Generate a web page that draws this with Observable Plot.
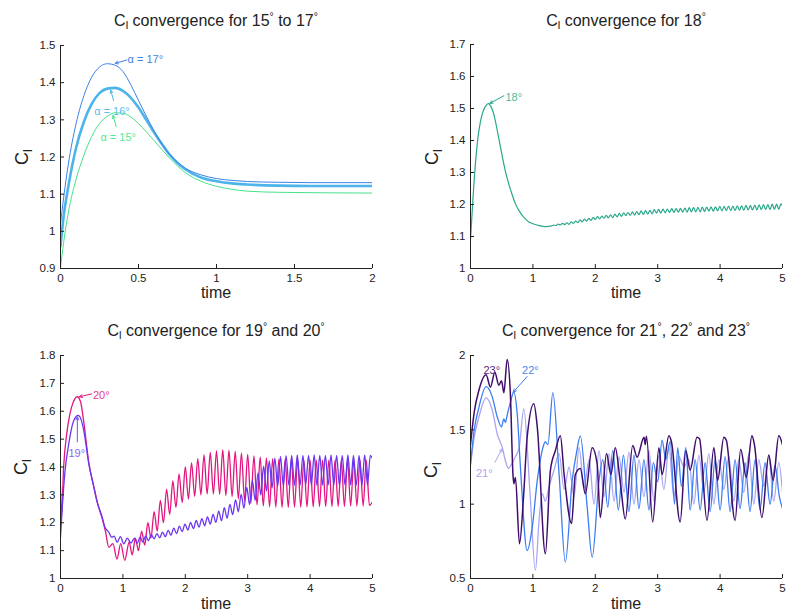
<!DOCTYPE html>
<html><head><meta charset="utf-8">
<script src="https://cdn.jsdelivr.net/npm/d3@7"></script>
<script src="https://cdn.jsdelivr.net/npm/@observablehq/plot@0.6"></script>
<style>
body{margin:0;background:#fff;}
#wrap{position:relative;width:787px;height:615px;background:#fff;font-family:"Liberation Sans",Arial,Helvetica,sans-serif;color:#222;overflow:hidden;}
.panel{position:absolute;}
.title{position:absolute;font-size:16px;line-height:16px;transform:translateX(-50%);white-space:nowrap;}
.xlab{position:absolute;font-size:16px;line-height:12px;transform:translateX(-50%);white-space:nowrap;}
.ylab{position:absolute;font-size:18px;line-height:18px;transform:translate(-50%,-50%) rotate(-90deg);white-space:nowrap;}
sub{font-size:0.7em;position:relative;top:0.3em;vertical-align:baseline;line-height:0;}
sup{font-size:0.65em;position:relative;top:-0.55em;vertical-align:baseline;line-height:0;}
</style></head><body><div id="wrap"></div>
<script>
// ---------- Panel 1: 15° to 17° ----------
const t1 = [0,0.02,0.05,0.1,0.15,0.2,0.25,0.3,0.35,0.4,0.45,0.5,0.55,0.6,0.65,0.7,0.75,0.8,0.9,1.0,1.1,1.2,1.4,1.6,2.0];
const cl17 = [1.02,1.09,1.18,1.29,1.365,1.415,1.442,1.451,1.447,1.43,1.395,1.352,1.31,1.27,1.235,1.207,1.186,1.17,1.152,1.142,1.137,1.134,1.132,1.131,1.131];
const cl16 = [0.96,1.04,1.12,1.225,1.295,1.343,1.372,1.384,1.386,1.378,1.36,1.333,1.3,1.266,1.235,1.206,1.184,1.167,1.145,1.135,1.129,1.126,1.123,1.122,1.122];
const cl15 = [0.90,0.97,1.05,1.14,1.205,1.255,1.29,1.31,1.319,1.318,1.308,1.29,1.268,1.244,1.22,1.197,1.176,1.158,1.135,1.121,1.113,1.108,1.105,1.104,1.103];

// ---------- Panel 2: 18° ----------
const t18 = [0,0.04,0.08,0.12,0.16,0.2,0.25,0.29,0.33,0.37,0.41,0.45,0.5,0.53,0.57,0.61,0.66,0.72,0.78,0.83,0.88,0.93,1.0,1.1,1.2,1.26,
1.3,1.335,1.37,1.405,1.44,1.475,1.51,1.545,1.58,1.615,1.65,1.685,1.72,1.755,1.79,1.825,1.86,1.895,1.93,1.965,
2.0,2.035,2.07,2.105,2.14,2.175,2.21,2.245,2.28,2.315,2.35,2.385,2.42,2.455,2.49,2.525,2.56,2.595,2.63,2.665,
2.7,2.735,2.77,2.805,2.84,2.875,2.91,2.945,2.98,3.015,3.05,3.085,3.12,3.155,3.19,3.225,3.26,3.295,3.33,3.365,
3.4,3.435,3.47,3.505,3.54,3.575,3.61,3.645,3.68,3.715,3.75,3.785,3.82,3.855,3.89,3.925,3.96,3.995,4.03,4.065,
4.1,4.135,4.17,4.205,4.24,4.275,4.31,4.345,4.38,4.415,4.45,4.485,4.52,4.555,4.59,4.625,4.66,4.695,4.73,4.765,
4.8,4.835,4.87,4.905,4.94,4.975,5.0];
const cl18 = [1.09,1.22,1.33,1.41,1.46,1.49,1.51,1.515,1.505,1.485,1.45,1.41,1.36,1.33,1.295,1.267,1.235,1.202,1.18,1.166,1.155,1.146,1.14,1.134,1.131,1.132,
1.133,1.136,1.134,1.139,1.136,1.141,1.137,1.143,1.138,1.146,1.141,1.148,1.143,1.152,1.146,1.154,1.148,1.157,1.150,1.160,
1.153,1.162,1.155,1.164,1.157,1.166,1.158,1.168,1.159,1.170,1.161,1.172,1.163,1.174,1.165,1.175,1.166,1.177,1.167,1.178,
1.168,1.180,1.169,1.181,1.170,1.182,1.171,1.184,1.173,1.185,1.173,1.186,1.174,1.186,1.175,1.187,1.175,1.187,1.176,1.188,
1.176,1.189,1.176,1.190,1.177,1.190,1.177,1.191,1.177,1.192,1.178,1.192,1.179,1.193,1.179,1.193,1.180,1.194,1.180,1.194,
1.181,1.195,1.181,1.195,1.181,1.196,1.182,1.196,1.182,1.197,1.183,1.197,1.183,1.198,1.183,1.199,1.184,1.200,1.184,1.200,
1.184,1.201,1.185,1.201,1.185,1.202,1.196];

// ---------- Panel 3: 19° and 20° ----------
const t20 = [0,0.015,0.05,0.1,0.15,0.2,0.267,0.32,0.374,0.454,0.534,0.588,0.668,0.72,0.774,0.84,0.905,0.965,1.03,
1.10,1.15,1.20,1.25,1.30,1.35,1.40,1.45,1.50,1.55,1.60,1.65,1.70,1.75,1.80,1.85,1.90,1.95,
2.00,2.05,2.10,2.15,2.20,2.25,2.30,2.35,2.40,2.45,2.50,2.55,2.60,2.65,2.70,2.75,2.80,2.85,2.90,2.95,
3.00,3.05,3.10,3.15,3.20,3.25,3.30,3.35,3.40,3.45,3.50,3.55,3.60,3.65,3.70,3.75,3.80,3.85,3.90,3.95,
4.00,4.05,4.10,4.15,4.20,4.25,4.30,4.35,4.40,4.45,4.50,4.55,4.60,4.65,4.70,4.75,4.80,4.85,4.90,4.95,5.0];
const cl20 = [1.33,1.22,1.40,1.52,1.59,1.63,1.652,1.635,1.56,1.415,1.33,1.275,1.215,1.17,1.112,1.125,1.07,1.125,1.065,
1.13,1.085,1.145,1.10,1.17,1.12,1.20,1.145,1.24,1.17,1.28,1.20,1.32,1.23,1.35,1.255,1.375,1.272,
1.40,1.285,1.415,1.295,1.43,1.30,1.443,1.303,1.452,1.303,1.458,1.302,1.461,1.298,1.46,1.294,1.456,1.286,1.45,1.278,
1.445,1.27,1.44,1.264,1.436,1.26,1.433,1.257,1.43,1.256,1.428,1.255,1.427,1.255,1.426,1.256,1.426,1.256,1.425,1.257,
1.425,1.257,1.425,1.258,1.425,1.258,1.425,1.258,1.425,1.259,1.425,1.259,1.425,1.26,1.425,1.26,1.425,1.26,1.425,1.262,1.275];

const t19 = [0,0.03,0.07,0.13,0.21,0.283,0.33,0.374,0.454,0.534,0.588,0.668,0.71,0.774,0.82,0.86,0.908,0.96,1.015,1.07,1.13,
1.185,1.23,1.275,1.32,1.365,1.41,1.455,1.5,1.545,1.59,1.635,1.68,1.725,1.77,1.815,1.86,1.905,1.95,1.995,
2.04,2.085,2.13,2.175,2.22,2.265,2.31,2.355,2.4,2.445,2.49,2.535,2.58,2.625,2.67,2.715,2.76,2.805,2.85,2.895,2.94,2.985,
3.03,3.075,3.12,3.165,3.21,3.255,3.3,3.345,3.39,3.435,3.48,3.525,3.57,3.615,3.66,3.705,3.75,3.795,3.84,3.885,3.93,3.975,
4.02,4.065,4.11,4.155,4.2,4.245,4.29,4.335,4.38,4.425,4.47,4.515,4.56,4.605,4.65,4.695,4.74,4.785,4.83,4.875,4.92,4.965,5.0];
const cl19 = [1.148,1.26,1.38,1.48,1.565,1.585,1.57,1.53,1.411,1.328,1.274,1.22,1.185,1.166,1.148,1.152,1.13,1.15,1.124,1.145,1.127,
1.145,1.126,1.149,1.131,1.153,1.136,1.157,1.142,1.161,1.146,1.166,1.15,1.173,1.155,1.181,1.161,1.188,1.168,1.195,
1.174,1.201,1.179,1.208,1.184,1.215,1.189,1.221,1.195,1.23,1.201,1.242,1.207,1.254,1.216,1.266,1.229,1.282,1.24,1.302,1.252,1.327,
1.265,1.352,1.28,1.379,1.3,1.403,1.314,1.422,1.324,1.432,1.33,1.438,1.333,1.441,1.335,1.442,1.334,1.443,1.335,1.442,1.336,1.442,
1.335,1.443,1.334,1.442,1.335,1.442,1.336,1.443,1.335,1.442,1.334,1.442,1.335,1.443,1.336,1.442,1.335,1.442,1.334,1.443,1.335,1.442,1.43];

// ---------- Panel 4: 21°, 22° and 23° ----------
const t23 = [0,0.06,0.134,0.25,0.32,0.39,0.454,0.497,0.535,0.588,0.64,0.68,0.694,0.72,0.785,0.85,0.908,1.015,1.07,1.2,
1.28,1.36,1.44,1.5,1.62,1.68,1.76,1.84,1.95,2.03,2.08,2.18,2.25,2.32,2.4,2.48,2.6,2.67,2.78,2.8,
2.82,2.92,3.02,3.07,3.18,3.22,3.36,3.45,3.52,3.63,3.67,3.79,3.9,3.96,4.06,4.1,4.24,4.33,4.42,4.51,
4.55,4.67,4.78,4.85,4.94,5.0];
const cl23 = [1.40,1.62,1.765,1.87,1.787,1.888,1.80,1.83,1.75,1.973,1.73,1.204,1.137,1.18,0.733,1.05,1.45,1.675,1.52,0.666,
1.226,1.36,1.46,1.2,0.87,1.2,1.24,1.07,1.38,1.27,0.91,1.34,1.2,1.38,1.15,0.90,1.395,1.316,1.45,1.40,
1.457,0.88,1.38,1.20,1.46,1.42,0.88,1.36,1.23,1.45,1.44,0.89,1.38,1.16,1.45,1.43,0.89,1.37,1.18,1.46,
1.40,0.91,1.33,1.16,1.46,1.40];

const t22 = [0,0.06,0.134,0.25,0.35,0.43,0.497,0.534,0.56,0.588,0.64,0.694,0.75,0.8,0.908,0.99,1.07,1.12,1.16,1.2,
1.24,1.32,1.42,1.52,1.63,1.7,1.76,1.87,1.95,
2.06,2.12,2.2,2.28,2.37,2.45,2.54,2.62,2.7,2.78,2.86,2.93,3.0,3.07,3.13,3.2,3.27,3.32,3.38,3.45,
3.52,3.6,3.68,3.76,3.84,3.92,4.0,4.08,4.16,4.24,4.32,4.4,4.48,4.56,4.64,4.72,4.8,4.88,4.95,5.0];
const cl22 = [1.27,1.5,1.65,1.79,1.72,1.585,1.52,1.574,1.55,1.60,1.686,1.753,1.60,1.25,0.688,0.845,1.16,1.30,1.38,1.42,
1.40,1.75,1.2,0.61,1.16,1.35,1.46,0.98,0.643,
1.16,1.30,0.98,1.36,0.96,1.33,0.95,1.33,0.97,1.30,0.96,1.28,1.15,1.43,1.30,1.42,1.00,1.38,1.12,1.38,
0.96,1.30,0.96,1.28,0.95,1.30,0.96,1.32,0.95,1.30,0.97,1.28,0.95,1.30,0.96,1.28,1.0,1.26,1.05,0.97];

const t21 = [0,0.06,0.134,0.25,0.35,0.43,0.51,0.56,0.61,0.66,0.72,0.78,0.855,0.95,1.04,1.1,1.15,1.2,1.26,1.34,
1.42,1.5,1.58,1.66,1.74,1.82,1.9,1.98,2.06,2.14,2.22,2.3,2.38,2.46,2.54,2.62,2.7,2.78,2.86,2.94,
3.02,3.1,3.18,3.26,3.34,3.42,3.5,3.58,3.66,3.74,3.82,3.9,3.98,4.06,4.14,4.22,4.3,4.38,4.46,4.54,
4.62,4.7,4.78,4.86,4.94,5.0];
const cl21 = [1.26,1.45,1.585,1.715,1.63,1.47,1.38,1.29,1.24,1.27,1.32,1.38,1.64,1.1,0.554,0.9,1.07,1.02,1.12,1.23,
1.34,1.10,1.25,1.05,1.38,1.11,1.30,1.0,1.36,1.05,1.34,1.02,1.32,1.08,1.35,1.0,1.30,1.05,1.36,1.02,
1.33,1.10,1.38,1.05,1.32,1.25,1.30,1.0,1.33,1.08,1.34,1.0,1.30,1.1,1.32,1.02,1.3,1.08,1.34,1.0,
1.3,1.12,1.32,1.02,1.28,1.08];

// ---------- Ticks, titles, labels ----------
const xTicks1 = [0,0.5,1,1.5,2];
const yTicks1 = [0.9,1,1.1,1.2,1.3,1.4,1.5];
const xTicks5 = [0,1,2,3,4,5];
const yTicks2 = [1,1.1,1.2,1.3,1.4,1.5,1.6,1.7];
const yTicks3 = [1,1.1,1.2,1.3,1.4,1.5,1.6,1.7,1.8];
const yTicks4 = [0.5,1,1.5,2];
const titles = [
  "C<sub>l</sub> convergence for 15<sup>°</sup> to 17<sup>°</sup>",
  "C<sub>l</sub> convergence for 18<sup>°</sup>",
  "C<sub>l</sub> convergence for 19<sup>°</sup> and 20<sup>°</sup>",
  "C<sub>l</sub> convergence for 21<sup>°</sup>, 22<sup>°</sup> and 23<sup>°</sup>"
];
const xLabel = "time";
const yLabel = "C<sub>l</sub>";

// annotation labels (data coordinates) and arrows
const labels1 = [{t:0.43,v:1.463,text:"α = 17°",anchor:"start",color:"#3f85e8"},
                 {t:0.33,v:1.323,text:"α = 16°",anchor:"middle",color:"#62bdee"},
                 {t:0.37,v:1.253,text:"α = 15°",anchor:"middle",color:"#55e895"}];
const arrows1 = [{x1:0.425,y1:1.461,x2:0.35,y2:1.452,color:"#3f85e8"},
                 {x1:0.34,y1:1.352,x2:0.322,y2:1.38,color:"#4cb4ea"},
                 {x1:0.357,y1:1.282,x2:0.337,y2:1.312,color:"#46e28c"}];
const labels2 = [{t:0.56,v:1.535,text:"18°",anchor:"start",color:"#4cbba0"}];
const arrows2 = [{x1:0.535,y1:1.54,x2:0.31,y2:1.516,color:"#27a88a"}];
const labels3 = [{t:0.52,v:1.656,text:"20°",anchor:"start",color:"#e8408f"},
                 {t:0.26,v:1.45,text:"19°",anchor:"middle",color:"#8c66f2"}];
const arrows3 = [{x1:0.5,y1:1.662,x2:0.3,y2:1.652,color:"#e3157f"},
                 {x1:0.27,y1:1.49,x2:0.27,y2:1.58,color:"#7a4cf2"}];
const labels4 = [{t:0.34,v:1.90,text:"23°",anchor:"middle",color:"#5a2a86"},
                 {t:0.96,v:1.90,text:"22°",anchor:"middle",color:"#4a86f2"},
                 {t:0.22,v:1.204,text:"21°",anchor:"middle",color:"#aaa5f3"}];
const arrows4 = [{x1:0.908,y1:1.858,x2:0.684,y2:1.753,color:"#3c7cf2"},
                 {x1:0.39,y1:1.282,x2:0.508,y2:1.372,color:"#aaa5f3"}];

function series(t, v){ return t.map((d,i)=>({t:d, v:v[i]})); }

const wrap = document.getElementById("wrap");

function drawPanel(cfg){
  const {left, top, width, height, mL, mR, mT, mB, xDomain, yDomain, xTicks, yTicks, lines, labels, arrows} = cfg;
  const innerW = width - mL - mR, innerH = height - mT - mB;
  const fmt = d => String(d);
  const marks = [];
  for (const s of lines) {
    marks.push(Plot.line(series(s.t, s.v), {x:"t", y:"v", stroke:s.color, strokeWidth:s.w, curve:"monotone-x", clip:true}));
  }
  marks.push(Plot.ruleX([xDomain[0]], {stroke:"#222", strokeWidth:1}));
  marks.push(Plot.ruleY([yDomain[0]], {stroke:"#222", strokeWidth:1}));
  marks.push(Plot.tickX(xTicks, {x:d=>d, stroke:"#222", insetTop: innerH - 4}));
  marks.push(Plot.tickY(yTicks, {y:d=>d, stroke:"#222", insetRight: innerW - 4}));
  marks.push(Plot.axisX(xTicks, {tickSize:0, tickPadding:5, tickFormat:fmt, label:null, fontSize:11.5}));
  marks.push(Plot.axisY(yTicks, {tickSize:0, tickPadding:5, tickFormat:fmt, label:null, fontSize:11.5}));
  for (const a of arrows) {
    marks.push(Plot.arrow([a], {x1:"x1", y1:"y1", x2:"x2", y2:"y2", stroke:a.color, strokeWidth:1, headLength:5, headAngle:50}));
  }
  for (const l of labels) {
    marks.push(Plot.text([l], {x:"t", y:"v", text:"text", fill:l.color, fontSize:11, textAnchor:l.anchor}));
  }
  const svg = Plot.plot({
    width, height, marginLeft:mL, marginRight:mR, marginTop:mT, marginBottom:mB,
    x:{domain:xDomain}, y:{domain:yDomain},
    style:{fontFamily:'"Liberation Sans", Arial, Helvetica, sans-serif', fontSize:"11.5px", color:"#222", background:"transparent", overflow:"visible"},
    marks
  });
  svg.classList.add("panel");
  svg.style.left = left + "px";
  svg.style.top = top + "px";
  wrap.appendChild(svg);
}

function addText(cls, html, x, y){
  const d = document.createElement("div");
  d.className = cls;
  d.innerHTML = html;
  d.style.left = x + "px";
  d.style.top = y + "px";
  wrap.appendChild(d);
}

drawPanel({left:0, top:0, width:393, height:300, mL:60, mR:21, mT:45, mB:32,
  xDomain:[0,2], yDomain:[0.9,1.5], xTicks:xTicks1, yTicks:yTicks1,
  lines:[{t:t1,v:cl15,color:"#46e28c",w:1},{t:t1,v:cl16,color:"#4cb4ea",w:2.6},{t:t1,v:cl17,color:"#3d82e6",w:1}],
  labels:labels1, arrows:arrows1});
drawPanel({left:393, top:0, width:394, height:300, mL:77, mR:5, mT:44, mB:32,
  xDomain:[0,5], yDomain:[1,1.7], xTicks:xTicks5, yTicks:yTicks2,
  lines:[{t:t18,v:cl18,color:"#27a88a",w:1.2}],
  labels:labels2, arrows:arrows2});
drawPanel({left:0, top:307, width:393, height:308, mL:60, mR:21, mT:48, mB:37,
  xDomain:[0,5], yDomain:[1,1.8], xTicks:xTicks5, yTicks:yTicks3,
  lines:[{t:t20,v:cl20,color:"#e3157f",w:1.3},{t:t19,v:cl19,color:"#6a35f2",w:1.3}],
  labels:labels3, arrows:arrows3});
drawPanel({left:393, top:307, width:394, height:308, mL:77, mR:5, mT:48, mB:37,
  xDomain:[0,5], yDomain:[0.5,2], xTicks:xTicks5, yTicks:yTicks4,
  lines:[{t:t21,v:cl21,color:"#aaa5f3",w:1.3},{t:t22,v:cl22,color:"#3c7cf2",w:1.3},{t:t23,v:cl23,color:"#3f0d6c",w:1.5}],
  labels:labels4, arrows:arrows4});

addText("title", titles[0], 216, 13);
addText("title", titles[1], 626, 13);
addText("title", titles[2], 216, 323);
addText("title", titles[3], 626, 323);
addText("xlab", xLabel, 216, 287);
addText("xlab", xLabel, 626, 287);
addText("xlab", xLabel, 216, 598);
addText("xlab", xLabel, 626, 598);
addText("ylab", yLabel, 22, 157);
addText("ylab", yLabel, 432, 157);
addText("ylab", yLabel, 21, 467);
addText("ylab", yLabel, 431, 470);
</script></body></html>
